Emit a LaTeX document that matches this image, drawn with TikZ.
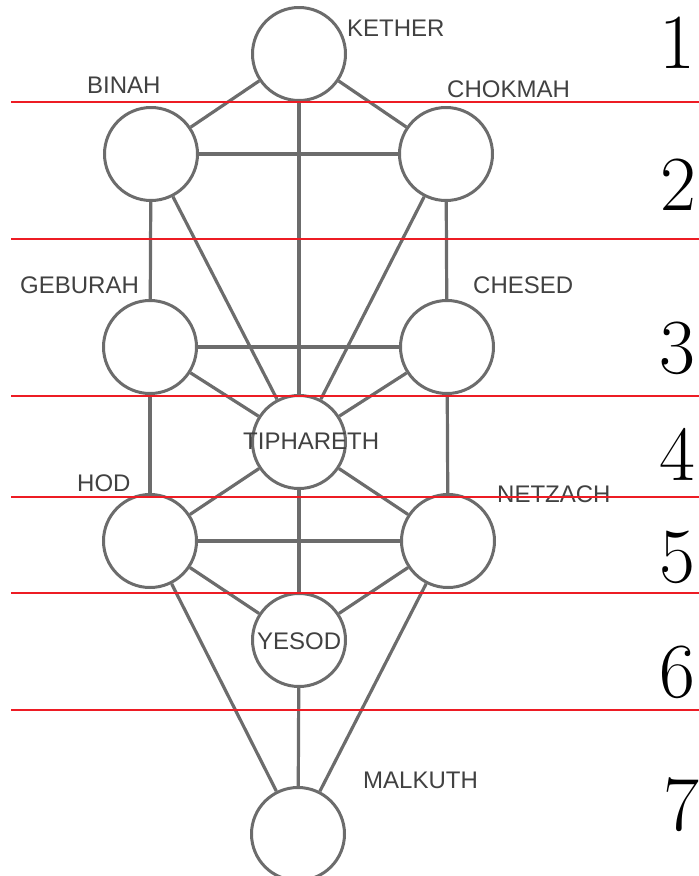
\documentclass[tikz,border=0pt]{standalone}
\usepackage{fontspec}
\newfontfamily\labelfont{Liberation Sans}
\definecolor{treegray}{RGB}{108,108,108}
\definecolor{labelgray}{RGB}{65,65,65}
\definecolor{levelred}{RGB}{237,28,36}
\begin{document}
\begin{tikzpicture}[x=1pt,y=-1pt,
  sephirah/.style={circle,draw=treegray,line width=3pt,fill=white,minimum size=93pt,inner sep=0pt},
  path/.style={draw=treegray,line width=3.2pt},
  namelabel/.style={anchor=base west,inner sep=0pt,text=labelgray,font=\labelfont\fontsize{24}{24}\selectfont},
  levelnum/.style={anchor=base,inner sep=0pt,font=\fontsize{78}{78}\selectfont},
  levelline/.style={draw=levelred,line width=2.8pt}]
\useasboundingbox (0,0) rectangle (699,876);
% sephiroth
\node[sephirah] (kether) at (299,54) {};
\node[sephirah] (binah) at (151,154) {};
\node[sephirah] (chokmah) at (446,154) {};
\node[sephirah] (geburah) at (150,347) {};
\node[sephirah] (chesed) at (447,347) {};
\node[sephirah] (tiphareth) at (299,442) {};
\node[sephirah] (hod) at (150,541) {};
\node[sephirah] (netzach) at (448,541) {};
\node[sephirah] (yesod) at (299,640) {};
\node[sephirah] (malkuth) at (298,834) {};
% paths
\path[path] (kether) -- (binah);
\path[path] (kether) -- (chokmah);
\path[path] (kether) -- (tiphareth);
\path[path] (binah) -- (chokmah);
\path[path] (binah) -- (geburah);
\path[path] (binah) -- (tiphareth);
\path[path] (chokmah) -- (chesed);
\path[path] (chokmah) -- (tiphareth);
\path[path] (geburah) -- (chesed);
\path[path] (geburah) -- (tiphareth);
\path[path] (chesed) -- (tiphareth);
\path[path] (geburah) -- (hod);
\path[path] (chesed) -- (netzach);
\path[path] (tiphareth) -- (hod);
\path[path] (tiphareth) -- (netzach);
\path[path] (tiphareth) -- (yesod);
\path[path] (hod) -- (netzach);
\path[path] (hod) -- (yesod);
\path[path] (netzach) -- (yesod);
\path[path] (hod) -- (malkuth);
\path[path] (netzach) -- (malkuth);
\path[path] (yesod) -- (malkuth);
% labels
\node[namelabel] (lkether) at (347,36) {KETHER};
\node[namelabel] (lbinah) at (87,93) {BINAH};
\node[namelabel] (lchokmah) at (447,97) {CHOKMAH};
\node[namelabel] (lgeburah) at (20,293) {GEBURAH};
\node[namelabel] (lchesed) at (473,293) {CHESED};
\node[namelabel] (ltiphareth) at (243,449) {TIPHARETH};
\node[namelabel] (lhod) at (77,491) {HOD};
\node[namelabel] (lnetzach) at (497,502) {NETZACH};
\node[namelabel] (lyesod) at (257,649) {YESOD};
\node[namelabel] (lmalkuth) at (363,788) {MALKUTH};
% level lines
\foreach \yy in {102,239,396,497,593,710}
  \draw[levelline] (11,\yy) -- (699,\yy);
% level numbers
\node[levelnum] (n1) at (677,68) {1};
\node[levelnum] (n2) at (678,210) {2};
\node[levelnum] (n3) at (677,373) {3};
\node[levelnum] (n4) at (677,480) {4};
\node[levelnum] (n5) at (677,582) {5};
\node[levelnum] (n6) at (677,697) {6};
\node[levelnum] (n7) at (681,830) {7};
\end{tikzpicture}
\end{document}
